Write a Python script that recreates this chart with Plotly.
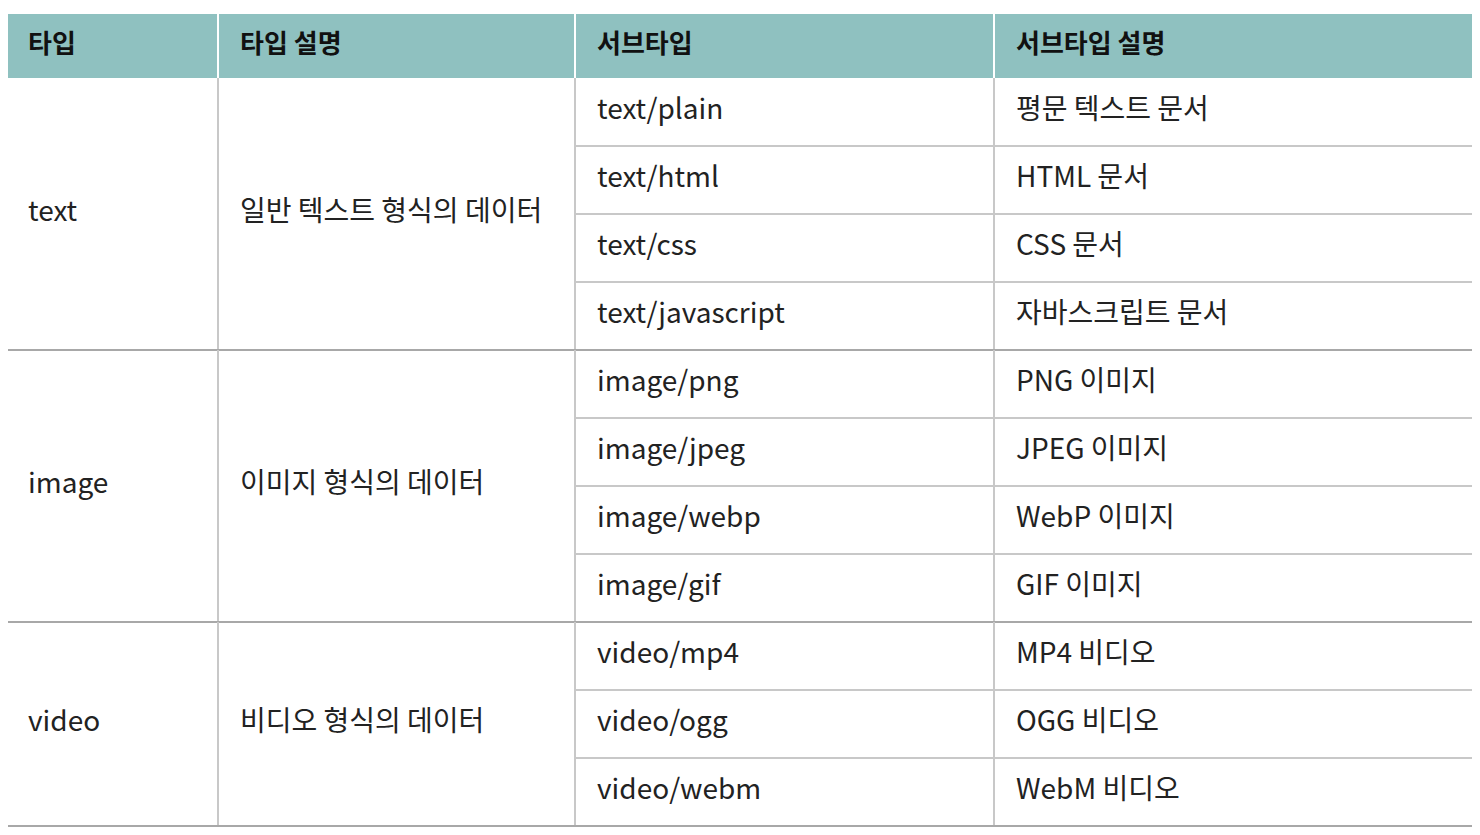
import plotly.graph_objects as go

headers = ["타입", "타입 설명", "서브타입", "서브타입 설명"]
types = ["text", "image", "video"]
type_desc = ["일반 텍스트 형식의 데이터", "이미지 형식의 데이터", "비디오 형식의 데이터"]
subtypes = [
    ["text/plain", "text/html", "text/css", "text/javascript"],
    ["image/png", "image/jpeg", "image/webp", "image/gif"],
    ["video/mp4", "video/ogg", "video/webm"],
]
sub_desc = [
    ["평문 텍스트 문서", "HTML 문서", "CSS 문서", "자바스크립트 문서"],
    ["PNG 이미지", "JPEG 이미지", "WebP 이미지", "GIF 이미지"],
    ["MP4 비디오", "OGG 비디오", "WebM 비디오"],
]

col_x = [6, 218, 575, 994, 1480]
head_top, head_bot = 14, 78
row_h = 68
pad = 22
font = "Noto Sans CJK KR"
page_off = 8  # browser body margin

fig = go.Figure()
shapes = []
# header
shapes.append(dict(type="rect", x0=col_x[0], x1=col_x[-1], y0=head_top, y1=head_bot,
                   fillcolor="#8fc1c0", line_width=0, layer="below"))
for cx in col_x[1:-1]:
    shapes.append(dict(type="line", x0=cx, x1=cx, y0=head_top, y1=head_bot,
                       line=dict(color="white", width=2)))
fig.add_trace(go.Scatter(
    x=[c + pad for c in col_x[:-1]], y=[(head_top + head_bot) / 2] * 4,
    text=["<b>" + h + "</b>" for h in headers], mode="text", textposition="middle right",
    textfont=dict(family=font, size=26, color="#111"), hoverinfo="skip"))

y = head_bot
tx, ty, tt = [], [], []
for g in range(len(types)):
    n = len(subtypes[g])
    top, bot = y, y + n * row_h
    tx += [col_x[0] + pad, col_x[1] + pad]
    ty += [(top + bot) / 2] * 2
    tt += [types[g], type_desc[g]]
    for i in range(n):
        r0 = top + i * row_h
        tx += [col_x[2] + pad, col_x[3] + pad]
        ty += [r0 + row_h / 2] * 2
        tt += [subtypes[g][i], sub_desc[g][i]]
        if i < n - 1:
            shapes.append(dict(type="line", x0=col_x[2], x1=col_x[-1], y0=r0 + row_h, y1=r0 + row_h,
                               line=dict(color="#c8c8c8", width=2)))
    for cx in col_x[1:-1]:
        shapes.append(dict(type="line", x0=cx, x1=cx, y0=top, y1=bot,
                           line=dict(color="#c8c8c8", width=2)))
    shapes.append(dict(type="line", x0=col_x[0], x1=col_x[-1], y0=bot, y1=bot,
                       line=dict(color="#a8a8a8", width=2)))
    y = bot

fig.add_trace(go.Scatter(
    x=tx, y=ty, text=tt, mode="text", textposition="middle right",
    textfont=dict(family=font, size=28, color="#222"), hoverinfo="skip"))

fig.update_layout(
    width=1480, height=835, margin=dict(l=0, r=0, t=0, b=0),
    plot_bgcolor="white", paper_bgcolor="white", showlegend=False, shapes=shapes,
    xaxis=dict(range=[page_off, 1480 + page_off], visible=False, fixedrange=True),
    yaxis=dict(range=[835 + page_off, page_off], visible=False, fixedrange=True),
)
fig.write_html("out.html")
